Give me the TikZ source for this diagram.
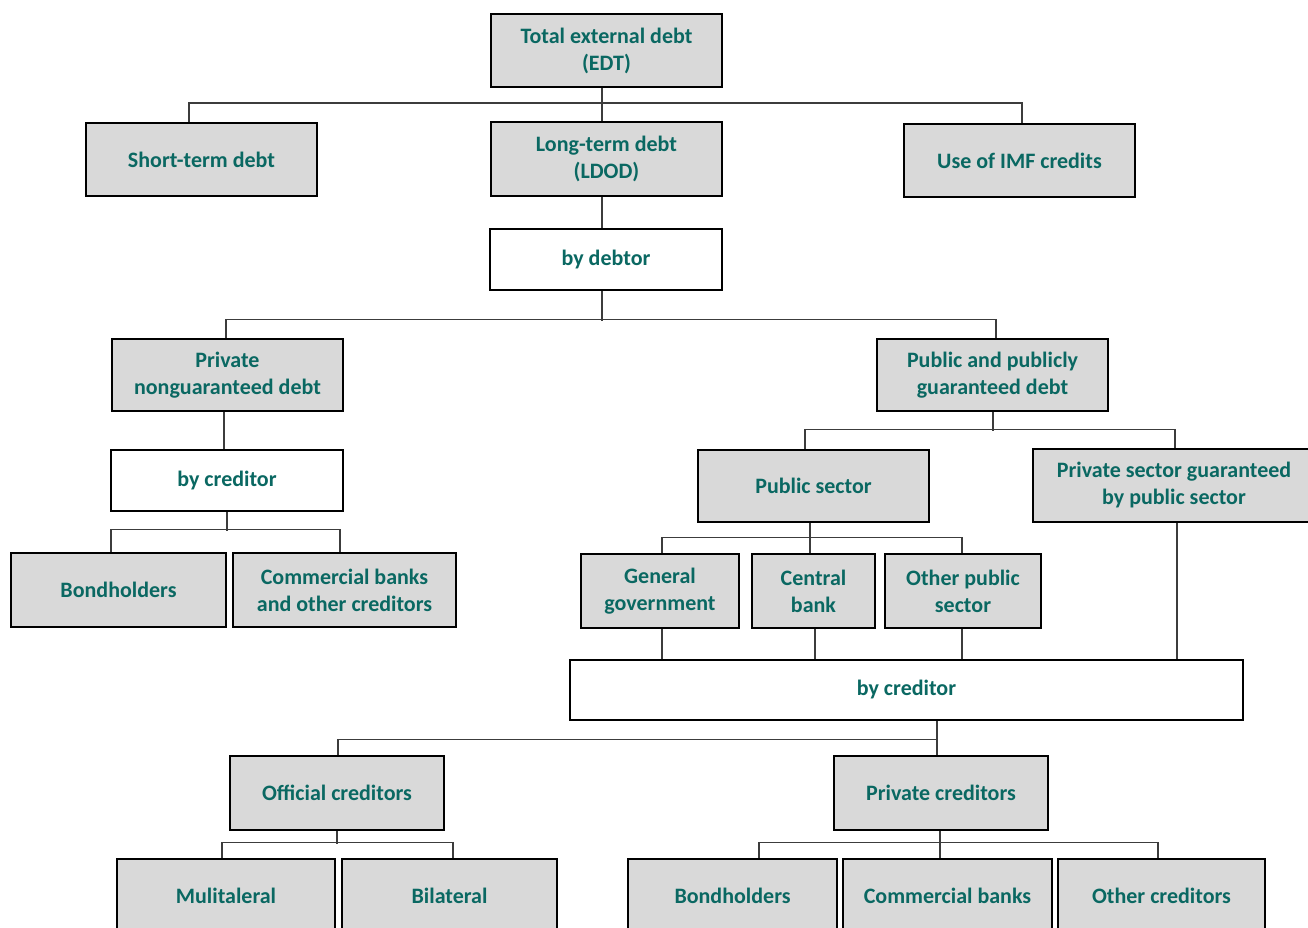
\documentclass[tikz,border=0pt]{standalone}
\usepackage{fontspec}
\setmainfont{Carlito}
\definecolor{txt}{RGB}{10,104,98}
\definecolor{boxfill}{RGB}{217,217,217}
\definecolor{conncol}{RGB}{60,60,60}
\begin{document}
\begin{tikzpicture}[x=1pt,y=-1pt,
  box/.style={draw=black,line width=1.8pt,fill=boxfill,text=txt,align=center,
    font=\fontsize{22}{27}\selectfont\bfseries,inner sep=0pt},
  wbox/.style={box,fill=white},
  conn/.style={draw=conncol,line width=1.2pt}]
\useasboundingbox (0,0) rectangle (1308,928);
\clip (0,0) rectangle (1308,928);
% nodes
\node[box,minimum width=231,minimum height=73] (edt) at (606.5,50.5) {Total external debt\\(EDT)};
\node[box,minimum width=231,minimum height=73] (short) at (201.5,159.5) {Short-term debt};
\node[box,minimum width=231,minimum height=74] (ldod) at (606.5,159) {Long-term debt\\(LDOD)};
\node[box,minimum width=231,minimum height=73] (imf) at (1019.5,160.5) {Use of IMF credits};
\node[wbox,minimum width=232,minimum height=61] (bydebtor) at (606,259.5) {by debtor};
\node[box,minimum width=231,minimum height=72] (pnd) at (227.5,375) {Private\\nonguaranteed debt};
\node[box,minimum width=231,minimum height=72] (ppg) at (992.5,375) {Public and publicly\\guaranteed debt};
\node[wbox,minimum width=232,minimum height=61] (bycredL) at (227,480.5) {by creditor};
\node[box,minimum width=231,minimum height=72] (pubsec) at (813.5,486) {Public sector};
\node[box,minimum width=282,minimum height=73] (psg) at (1174,485.5) {Private sector guaranteed\\by public sector};
\node[box,minimum width=215,minimum height=74] (bondL) at (118.5,590) {Bondholders};
\node[box,minimum width=223,minimum height=74] (commL) at (344.5,590) {Commercial banks\\and other creditors};
\node[box,minimum width=158,minimum height=74] (gengov) at (660,591) {General\\government};
\node[box,minimum width=123,minimum height=74] (central) at (813.5,591) {Central\\bank};
\node[box,minimum width=156,minimum height=74] (otherpub) at (963,591) {Other public\\sector};
\node[wbox,minimum width=673,minimum height=60] (bycredW) at (906.5,690) {by creditor};
\node[box,minimum width=214,minimum height=74] (official) at (337,793) {Official creditors};
\node[box,minimum width=214,minimum height=74] (privcred) at (941,793) {Private creditors};
\node[box,minimum width=218,minimum height=74] (multi) at (226,896) {Mulitaleral};
\node[box,minimum width=215,minimum height=74] (bilat) at (449.5,896) {Bilateral};
\node[box,minimum width=209,minimum height=74] (bondR) at (732.5,896) {Bondholders};
\node[box,minimum width=209,minimum height=74] (commR) at (947.5,896) {Commercial banks};
\node[box,minimum width=207,minimum height=74] (otherR) at (1161.5,896) {Other creditors};
% connectors
\draw[conn] ([xshift=-4.5]edt.south) -- ([xshift=-4.5]ldod.north);
\draw[conn] ([xshift=-12.5]short.north) -- ++(0,-19) -| ([xshift=2.5]imf.north);
\draw[conn] ([xshift=-4.5]ldod.south) -- ([xshift=-4]bydebtor.north);
\draw[conn] ([xshift=-4]bydebtor.south) -- ++(0,30);
\draw[conn] ([xshift=-1.5]pnd.north) -- ++(0,-19) -| ([xshift=3.5]ppg.north);
\draw[conn] ([xshift=-3.5]pnd.south) -- ([xshift=-3]bycredL.north);
\draw[conn] (bycredL.south) -- ++(0,19);
\draw[conn] ([xshift=-7.5]bondL.north) -- ++(0,-23) -| ([xshift=-4.5]commL.north);
\draw[conn] ([xshift=0.5]ppg.south) -- ++(0,19);
\draw[conn] ([xshift=-8.5]pubsec.north) -- ++(0,-20) -| ([xshift=1]psg.north);
\draw[conn] ([xshift=-3.5]pubsec.south) -- ([xshift=-3.5]central.north);
\draw[conn] ([xshift=2]gengov.north) -- ++(0,-16) -| ([xshift=-1]otherpub.north);
\draw[conn] ([xshift=2]gengov.south) -- ([xshift=-244.5]bycredW.north);
\draw[conn] ([xshift=1.5]central.south) -- ([xshift=-91.5]bycredW.north);
\draw[conn] ([xshift=-1]otherpub.south) -- ([xshift=55.5]bycredW.north);
\draw[conn] ([xshift=3]psg.south) -- ([xshift=270.5]bycredW.north);
\draw[conn] ([xshift=30.5]bycredW.south) -- ([xshift=-4]privcred.north);
\draw[conn] ([xshift=1]official.north) -- ++(0,-16) -| ([xshift=-4]privcred.north);
\draw[conn] (official.south) -- ++(0,13);
\draw[conn] ([xshift=-4]multi.north) -- ++(0,-16) -| ([xshift=3.5]bilat.north);
\draw[conn] ([xshift=-1]privcred.south) -- ([xshift=-7.5]commR.north);
\draw[conn] ([xshift=26.5]bondR.north) -- ++(0,-16) -| ([xshift=-3.5]otherR.north);
\end{tikzpicture}
\end{document}
